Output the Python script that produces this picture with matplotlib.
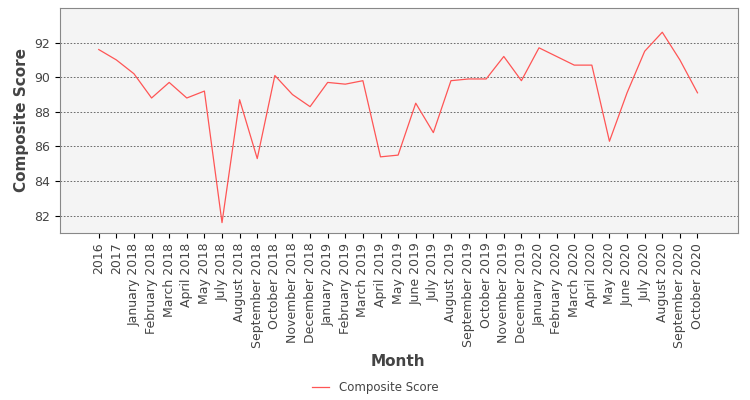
import matplotlib
matplotlib.use("Agg")
import matplotlib.pyplot as plt
from matplotlib.lines import Line2D

months = ["2016", "2017", "January 2018", "February 2018", "March 2018", "April 2018", "May 2018",
          "July 2018", "August 2018", "September 2018", "October 2018", "November 2018", "December 2018",
          "January 2019", "February 2019", "March 2019", "April 2019", "May 2019", "June 2019", "July 2019",
          "August 2019", "September 2019", "October 2019", "November 2019", "December 2019",
          "January 2020", "February 2020", "March 2020", "April 2020", "May 2020", "June 2020",
          "July 2020", "August 2020", "September 2020", "October 2020"]
scores = [91.6, 91.0, 90.2, 88.8, 89.7, 88.8, 89.2, 81.6, 88.7, 85.3, 90.1, 89.0, 88.3, 89.7, 89.6, 89.8,
          85.4, 85.5, 88.5, 86.8, 89.8, 89.9, 89.9, 91.2, 89.8, 91.7, 91.2, 90.7, 90.7, 86.3, 89.1,
          91.5, 92.6, 91.0, 89.1]

fig = plt.figure(figsize=(7.5, 4), dpi=100)
ax = fig.add_axes([0.08, 0.4175, 0.904, 0.5625])
ax.set_facecolor("#f4f4f4")
x = list(range(len(months)))
ax.plot(x, scores, color="#ff5555", lw=0.9)
ax.set_xlim(-2.2, 36.3)
ax.set_ylim(81.0, 94.0)
ax.set_yticks([82, 84, 86, 88, 90, 92])
ax.set_xticks(x)
ax.set_xticklabels(months, rotation=90, fontsize=9, color="#444444")
ax.tick_params(axis="y", labelsize=9, labelcolor="#444444")
ax.grid(axis="y", color="#555555", linestyle=(0, (2, 2)), lw=0.6)
ax.set_axisbelow(True)
for s in ax.spines.values():
    s.set_color("#888888")
ax.set_ylabel("Composite Score", fontsize=11, fontweight="bold", color="#444444")
fig.text(0.53, 0.085, "Month", ha="center", fontsize=11, fontweight="bold", color="#444444")
fig.legend(handles=[Line2D([], [], color="#ff5555", lw=0.9)], labels=["Composite Score"],
           loc="center", bbox_to_anchor=(0.5, 0.03), frameon=False, fontsize=8.5,
           handlelength=1.5, labelcolor="#444444")
fig.savefig("out.png", dpi=100)
